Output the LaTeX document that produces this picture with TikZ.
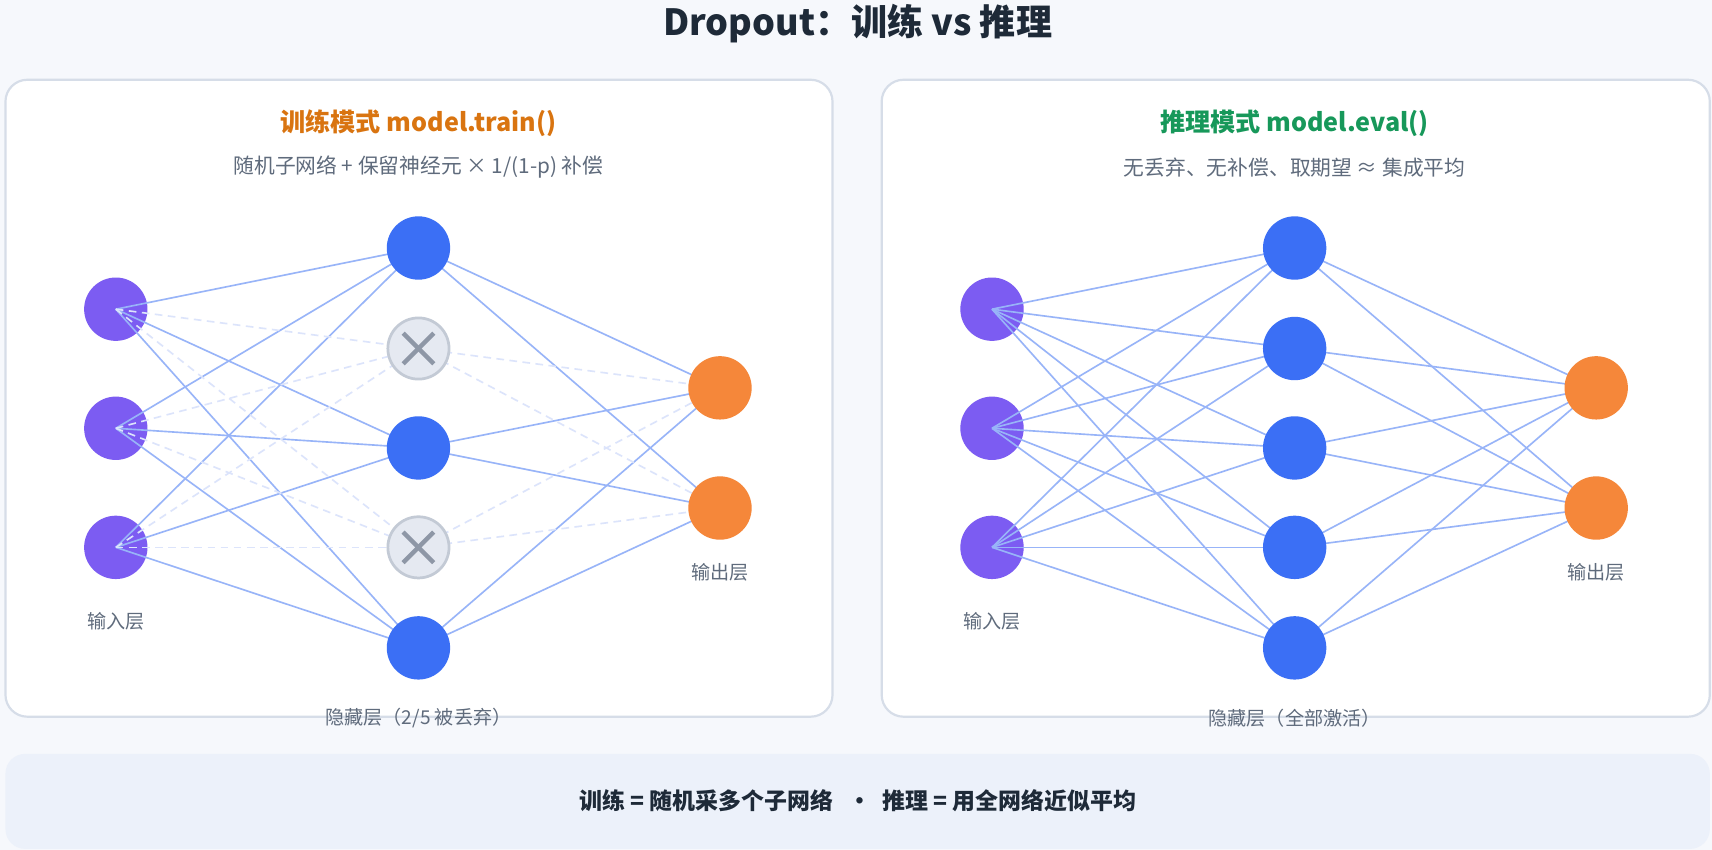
\documentclass[tikz,border=0pt]{standalone}
\usepackage{fontspec}
\setmainfont{Noto Sans CJK SC}
\begin{document}
\begin{tikzpicture}[x=1pt,y=-1pt,
  panel/.style={draw=pborder,line width=2pt,fill=white,rounded corners=20pt},
  inp/.style={circle,fill=inpc,minimum size=58pt,inner sep=0pt},
  hid/.style={circle,fill=hidc,minimum size=58pt,inner sep=0pt},
  outn/.style={circle,fill=outc,minimum size=58pt,inner sep=0pt},
  drop/.style={circle,fill=dropf,draw=dropb,line width=2.5pt,minimum size=56pt,inner sep=0pt},
  edge/.style={draw=edgec,line width=1.5pt},
  dedge/.style={draw=dedgec,line width=1.5pt,dash pattern=on 7pt off 5pt},
  xmark/.style={draw=xc,line width=4pt},
  lab/.style={text=labc,font=\fontsize{17.5}{20}\selectfont}]
\definecolor{bg}{HTML}{F6F8FC}
\definecolor{pborder}{HTML}{D6DDE8}
\definecolor{inpc}{HTML}{7C5CF2}
\definecolor{hidc}{HTML}{3B6FF5}
\definecolor{outc}{HTML}{F5873A}
\definecolor{dropf}{HTML}{E5E9F1}
\definecolor{dropb}{HTML}{C3CAD5}
\definecolor{xc}{HTML}{8E97A6}
\definecolor{edgec}{HTML}{98B4F8}
\definecolor{dedgec}{HTML}{DCE4FB}
\definecolor{labc}{HTML}{5F6B7C}
\definecolor{titc}{HTML}{1E2A38}
\definecolor{orng}{HTML}{D97410}
\definecolor{grn}{HTML}{17985A}
\definecolor{barc}{HTML}{ECF1FA}
\fill[bg] (0,0) rectangle (1567,778);
\useasboundingbox (0,0) rectangle (1567,778);
\node[font=\fontsize{33}{38}\selectfont\bfseries,text=titc] (title) at (785,22) {Dropout：训练 vs 推理};
\draw[panel] (5,73) rectangle (762,656);
\draw[panel] (807,73) rectangle (1565,656);
\fill[barc,rounded corners=18pt] (5,690) rectangle (1565,777);
\node[font=\fontsize{21}{25}\selectfont\bfseries,text=titc] (bar) at (785,733) {训练 = 随机采多个子网络 \ \ •\ \ 推理 = 用全网络近似平均};
% titles
\node[font=\fontsize{23}{27}\selectfont\bfseries,text=orng] (lt) at (383,113) {训练模式 model.train()};
\node[font=\fontsize{19}{22}\selectfont,text=labc] (ls) at (383,153) {随机子网络 + 保留神经元 × 1/(1-p) 补偿};
\node[font=\fontsize{23}{27}\selectfont\bfseries,text=grn] (rt) at (1185,113) {推理模式 model.eval()};
\node[font=\fontsize{19}{22}\selectfont,text=labc] (rs) at (1185,153) {无丢弃、无补偿、取期望 ≈ 集成平均};
% left network
\foreach \i/\y in {1/283,2/392,3/501} \node[inp] (li\i) at (106,\y) {};
\foreach \i/\y in {1/227,2/319,3/410,4/501,5/593} \coordinate (lh\i) at (383,\y);
\foreach \i/\y in {1/355,2/465} \coordinate (lo\i) at (659,\y);
\foreach \i in {1,2,3}{\foreach \j in {1,3,5}{\draw[edge] (li\i.center) -- (lh\j);}}
\foreach \j in {1,3,5}{\foreach \k in {1,2}{\draw[edge] (lh\j) -- (lo\k);}}
\foreach \i in {1,2,3}{\foreach \j in {2,4}{\draw[dedge] (li\i.center) -- (lh\j);}}
\foreach \j in {2,4}{\foreach \k in {1,2}{\draw[dedge] (lh\j) -- (lo\k);}}
\foreach \j in {1,3,5} \node[hid] (nh\j) at (lh\j) {};
\foreach \k in {1,2} \node[outn] (no\k) at (lo\k) {};
\foreach \j in {2,4}{\node[drop] (nd\j) at (lh\j) {};
  \draw[xmark] ([shift={(-14,-14)}]nd\j.center) -- ([shift={(14,14)}]nd\j.center);
  \draw[xmark] ([shift={(-14,14)}]nd\j.center) -- ([shift={(14,-14)}]nd\j.center);}
\node[lab] (lin) at (106,569) {输入层};
\node[lab] (lout) at (659,524) {输出层};
\node[lab] (lhid) at (383,657) {隐藏层（2/5 被丢弃）};
% right network
\foreach \i/\y in {1/283,2/392,3/501} \node[inp] (ri\i) at (908,\y) {};
\foreach \i/\y in {1/227,2/319,3/410,4/501,5/593} \coordinate (rh\i) at (1185,\y);
\foreach \i/\y in {1/355,2/465} \coordinate (ro\i) at (1461,\y);
\foreach \i in {1,2,3}{\foreach \j in {1,...,5}{\draw[edge] (ri\i.center) -- (rh\j);}}
\foreach \j in {1,...,5}{\foreach \k in {1,2}{\draw[edge] (rh\j) -- (ro\k);}}
\foreach \j in {1,...,5} \node[hid] (rnh\j) at (rh\j) {};
\foreach \k in {1,2} \node[outn] (rno\k) at (ro\k) {};
\node[lab] (rin) at (908,569) {输入层};
\node[lab] (rout) at (1461,524) {输出层};
\node[lab] (rhid) at (1185,657) {隐藏层（全部激活）};
\end{tikzpicture}
\end{document}
